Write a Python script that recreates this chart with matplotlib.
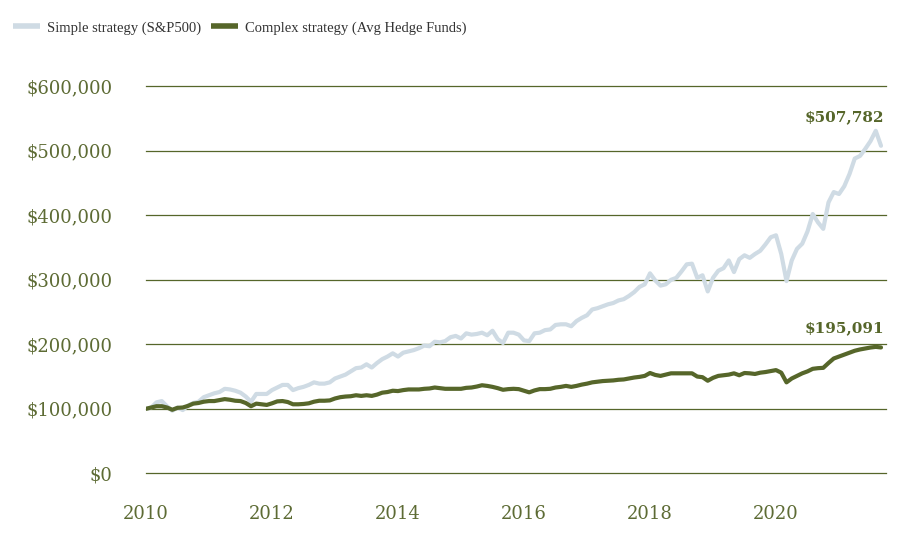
import numpy as np
import matplotlib
matplotlib.use('Agg')
import matplotlib.pyplot as plt
from matplotlib.ticker import FuncFormatter

# monthly values in $ thousands, Jan 2010 .. Sep 2021
sp500_k = [
    100, 102, 110, 112, 104, 97, 102, 98, 105, 109, 111, 118,         # 2010
    121, 124, 126, 131, 130, 128, 125, 119, 111, 123, 123, 123,       # 2011
    129, 133, 137, 137, 129, 132, 134, 137, 141, 139, 139, 141,       # 2012
    147, 150, 153, 158, 163, 164, 169, 164, 171, 177, 181, 186,       # 2013
    181, 187, 189, 191, 194, 198, 197, 204, 203, 205, 211, 213,       # 2014
    209, 217, 215, 216, 218, 214, 221, 208, 202, 218, 218, 215,       # 2015
    206, 205, 217, 218, 222, 223, 230, 231, 231, 228, 236, 241,       # 2016
    245, 254, 256, 259, 262, 264, 268, 270, 275, 281, 289, 293,       # 2017
    310, 299, 291, 293, 300, 303, 313, 324, 325, 303, 307, 282,       # 2018
    303, 314, 318, 330, 312, 332, 338, 334, 340, 345, 355, 366,       # 2019
    369, 340, 298, 330, 348, 356, 375, 402, 389, 379, 420, 436,       # 2020
    433, 445, 464, 488, 492, 503, 515, 531, 507.782,                  # 2021
]
hedge_k = [
    100, 102, 104, 104, 102, 98.5, 101.5, 102, 104.5, 108, 109, 111,
    112, 112, 113.5, 115, 114, 112.5, 112, 109, 104, 108, 107, 106,
    108.5, 111.5, 112, 110.5, 107, 107, 107.5, 108.5, 111, 112.5, 112.5, 113,
    116, 118, 119, 119.5, 121, 120, 121, 120, 122, 125, 126, 128,
    127.5, 129, 130, 130, 130, 131, 131.5, 133, 132, 131, 131, 131,
    131, 132.5, 133, 134.5, 136.5, 135.5, 134, 132, 129.5, 130.5, 131, 130.5,
    128, 125.5, 128.5, 130.5, 130.5, 131, 133, 134, 135.5, 134, 135.5, 137.5,
    139, 141, 142, 143, 143.5, 144, 145, 145.5, 147, 148.5, 149.5, 151,
    155.5, 152.5, 151, 153, 155, 155, 155, 155, 155, 150, 149, 143.5,
    148, 151, 152, 153, 155, 152, 155.5, 155, 154, 156, 157, 158.5,
    160, 156, 141, 147, 151, 155, 158, 162, 163, 163.5, 171, 178,
    181, 184, 187, 190, 192, 193.5, 195, 196, 195.091,
]
year_ticks = [2010, 2012, 2014, 2016, 2018, 2020]
value_ticks = [0, 100000, 200000, 300000, 400000, 500000, 600000]

olive = '#56662a'
light = '#cfdbe4'

sp500 = np.array(sp500_k) * 1000
hedge = np.array(hedge_k) * 1000
t = 2010 + np.arange(len(sp500)) / 12

fig = plt.figure(figsize=(9.03, 5.36), dpi=100)
ax = fig.add_axes([146 / 903, 62.7 / 536, 740 / 903, 387 / 536])

ax.plot(t, sp500, color=light, lw=3, solid_capstyle='round', label='Simple strategy (S&P500)')
ax.plot(t, hedge, color=olive, lw=3, solid_capstyle='round', label='Complex strategy (Avg Hedge Funds)')

ax.set_xlim(2010, 2010 + 740 / 63)
ax.set_ylim(0, 600000)
ax.set_xticks(year_ticks)
ax.set_yticks(value_ticks)
ax.yaxis.set_major_formatter(FuncFormatter(lambda v, p: f'${v:,.0f}'))
for lab in ax.get_xticklabels() + ax.get_yticklabels():
    lab.set_family('DejaVu Serif')
ax.tick_params(axis='both', length=0, labelsize=13, labelcolor='#5d6b34')
ax.tick_params(axis='y', pad=24)
ax.tick_params(axis='x', pad=23)

ax.grid(axis='y', color=olive, lw=0.9)
ax.set_axisbelow(True)
for gl in ax.get_ygridlines():
    gl.set_clip_on(False)
for s in ax.spines.values():
    s.set_visible(False)

# end-value labels
for yv, dy in ((sp500, 18), (hedge, 11)):
    ax.annotate(f'${yv[-1]:,.0f}', xy=(t[-1], yv[-1]), xytext=(2, dy),
                textcoords='offset points', ha='right', va='baseline',
                fontsize=11, fontweight='bold', family='DejaVu Serif', color=olive)

leg = fig.legend(loc='center left', bbox_to_anchor=(13 / 903, 1 - 28 / 536), ncol=2,
                 frameon=False, borderpad=0, borderaxespad=0, handlelength=1.85,
                 handletextpad=0.5, columnspacing=0.65,
                 prop={'family': 'Liberation Serif', 'size': 10.5})
for txt in leg.get_texts():
    txt.set_color('#333333')
for h in leg.get_lines():
    h.set_linewidth(4)
    h.set_solid_capstyle('butt')

fig.savefig('out.png', dpi=100)
